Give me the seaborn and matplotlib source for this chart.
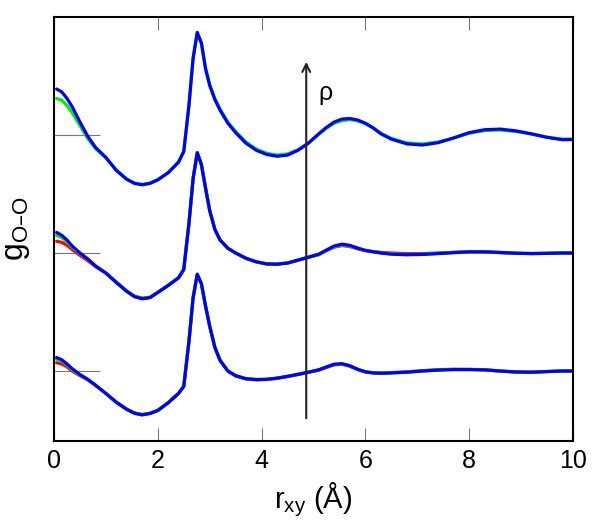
import numpy as np
import pandas as pd
import matplotlib
matplotlib.use("Agg")
import matplotlib.pyplot as plt
import seaborn as sns

# ---------------- data ----------------
r = [0.05, 0.15, 0.25, 0.35, 0.5,
     0.65, 0.8, 1.0, 1.2, 1.4,
     1.55, 1.7, 1.85, 2.0, 2.2,
     2.4, 2.5, 2.6, 2.68, 2.76,
     2.84, 2.92, 3.0, 3.1, 3.2,
     3.35, 3.5, 3.7, 3.9, 4.1,
     4.3, 4.5, 4.7, 4.9, 5.1,
     5.25, 5.4, 5.55, 5.7, 5.85,
     6.0, 6.15, 6.3, 6.5, 6.8,
     7.1, 7.4, 7.7, 8.0, 8.3,
     8.6, 8.9, 9.2, 9.5, 9.8,
     10.0]

# lowest density (offset 0)
low_red = [1.07, 1.06, 1.035, 1.0, 0.96,
           0.925, 0.878, 0.81, 0.737, 0.678,
           0.645, 0.632, 0.643, 0.668, 0.733,
           0.812, 0.87, 1.25, 1.62, 1.82,
           1.74, 1.55, 1.38, 1.2, 1.09,
           1.0, 0.958, 0.932, 0.925, 0.928,
           0.938, 0.953, 0.97, 0.988, 1.007,
           1.03, 1.052, 1.057, 1.04, 1.012,
           0.992, 0.985, 0.983, 0.987, 0.993,
           1.003, 1.011, 1.015, 1.014, 1.01,
           0.999, 0.991, 0.99, 0.996, 1.0,
           1.0]
low_green = [1.10, 1.085, 1.05, 1.01, 0.965,
             0.928, 0.879, 0.81, 0.735, 0.676,
             0.643, 0.63, 0.641, 0.666, 0.731,
             0.81, 0.87, 1.25, 1.62, 1.82,
             1.74, 1.55, 1.38, 1.2, 1.09,
             1.0, 0.96, 0.935, 0.927, 0.93,
             0.94, 0.955, 0.973, 0.99, 1.01,
             1.033, 1.055, 1.06, 1.043, 1.014,
             0.993, 0.985, 0.982, 0.985, 0.99,
             1.0, 1.009, 1.013, 1.013, 1.01,
             1.0, 0.992, 0.99, 0.996, 1.0,
             1.0]
low_blue = [1.115, 1.095, 1.06, 1.02, 0.97,
            0.93, 0.88, 0.81, 0.735, 0.675,
            0.642, 0.628, 0.64, 0.665, 0.73,
            0.81, 0.87, 1.25, 1.62, 1.82,
            1.74, 1.55, 1.38, 1.2, 1.09,
            1.0, 0.96, 0.935, 0.928, 0.93,
            0.94, 0.955, 0.972, 0.99, 1.01,
            1.035, 1.058, 1.062, 1.045, 1.015,
            0.993, 0.984, 0.981, 0.984, 0.99,
            1.0, 1.008, 1.012, 1.012, 1.01,
            1.0, 0.992, 0.99, 0.995, 1.0,
            1.0]

# intermediate density (offset 1)
mid_red = [1.10, 1.09, 1.065, 1.03, 0.98,
           0.935, 0.885, 0.83, 0.755, 0.68,
           0.635, 0.617, 0.625, 0.668, 0.727,
           0.79, 0.86, 1.25, 1.63, 1.85,
           1.75, 1.55, 1.36, 1.2, 1.11,
           1.04, 1.0, 0.955, 0.925, 0.908,
           0.906, 0.915, 0.938, 0.962, 0.985,
           1.02, 1.05, 1.063, 1.055, 1.035,
           1.02, 1.012, 1.006, 1.0, 0.995,
           0.995, 1.0, 1.006, 1.01, 1.008,
           1.003, 0.998, 0.996, 0.998, 1.0,
           1.0]
mid_green = [1.15, 1.13, 1.095, 1.05, 0.995,
             0.948, 0.89, 0.83, 0.752, 0.677,
             0.632, 0.614, 0.623, 0.666, 0.725,
             0.79, 0.86, 1.25, 1.63, 1.85,
             1.75, 1.55, 1.36, 1.2, 1.11,
             1.04, 1.0, 0.955, 0.925, 0.908,
             0.906, 0.916, 0.94, 0.964, 0.988,
             1.022, 1.055, 1.068, 1.06, 1.04,
             1.022, 1.011, 1.002, 0.993, 0.988,
             0.99, 0.997, 1.004, 1.01, 1.01,
             1.004, 0.998, 0.995, 0.997, 1.0,
             1.0]
mid_blue = [1.175, 1.15, 1.11, 1.06, 1.0,
            0.95, 0.89, 0.83, 0.75, 0.675,
            0.63, 0.612, 0.622, 0.665, 0.725,
            0.79, 0.86, 1.25, 1.63, 1.85,
            1.75, 1.55, 1.36, 1.2, 1.11,
            1.04, 1.0, 0.955, 0.925, 0.907,
            0.905, 0.915, 0.94, 0.965, 0.99,
            1.025, 1.06, 1.075, 1.065, 1.042,
            1.022, 1.01, 1.0, 0.99, 0.985,
            0.988, 0.995, 1.003, 1.01, 1.01,
            1.005, 0.998, 0.995, 0.997, 1.0,
            1.0]

# highest density (offset 2)
high_green = [1.31, 1.295, 1.25, 1.19, 1.08,
              0.97, 0.885, 0.805, 0.705, 0.628,
              0.593, 0.582, 0.593, 0.622, 0.682,
              0.772, 0.86, 1.25, 1.65, 1.86,
              1.78, 1.57, 1.43, 1.31, 1.22,
              1.11, 1.03, 0.94, 0.88, 0.845,
              0.83, 0.84, 0.875, 0.932, 1.005,
              1.058, 1.1, 1.122, 1.13, 1.12,
              1.095, 1.06, 1.015, 0.972, 0.933,
              0.925, 0.94, 0.975, 1.015, 1.038,
              1.042, 1.03, 1.008, 0.982, 0.965,
              0.966]
high_blue = [1.39, 1.365, 1.31, 1.24, 1.11,
             0.99, 0.895, 0.81, 0.70, 0.625,
             0.59, 0.578, 0.59, 0.62, 0.68,
             0.77, 0.86, 1.25, 1.65, 1.87,
             1.78, 1.56, 1.42, 1.3, 1.21,
             1.1, 1.02, 0.93, 0.87, 0.835,
             0.82, 0.83, 0.87, 0.93, 1.01,
             1.065, 1.11, 1.135, 1.14, 1.127,
             1.1, 1.06, 1.01, 0.965, 0.925,
             0.915, 0.935, 0.975, 1.02, 1.045,
             1.05, 1.035, 1.01, 0.98, 0.96,
             0.962]

offsets = [0, 1, 2]
x_ticks = [0, 2, 4, 6, 8, 10]
baselines = [1, 2, 3]

groups = [
    (0, {"red": low_red, "green": low_green, "blue": low_blue}),
    (1, {"red": mid_red, "green": mid_green, "blue": mid_blue}),
    (2, {"green": high_green, "blue": high_blue}),
]

rows = []
for off, series in groups:
    for name, vals in series.items():
        assert len(vals) == len(r), (off, name, len(vals))
        for rv, gv in zip(r, vals):
            rows.append({"r": rv, "g": gv, "y": gv + off, "series": name, "set": off})
df = pd.DataFrame(rows)

# ---------------- plot ----------------
sns.set_style("white")
plt.rcParams["font.family"] = ["Liberation Sans", "DejaVu Sans"]
plt.rcParams["mathtext.default"] = "regular"
plt.rcParams["lines.solid_joinstyle"] = "round"
plt.rcParams["lines.solid_capstyle"] = "round"
plt.rcParams["text.color"] = "black"
plt.rcParams["axes.labelcolor"] = "black"
plt.rcParams["xtick.labelcolor"] = "black"
plt.rcParams["ytick.labelcolor"] = "black"

fig = plt.figure(figsize=(6.0, 5.25), dpi=100)
ax = fig.add_axes([0.09, 0.16, 0.865, 0.8076])

palette = {"red": "#ff0000", "green": "#00ee00", "blue": "#0000ff"}
for off in offsets:
    sub = df[df["set"] == off]
    order = [s for s in ["red", "green", "blue"] if s in sub["series"].unique()]
    sns.lineplot(data=sub, x="r", y="y", hue="series", hue_order=order,
                 palette=palette, legend=False, sort=False, estimator=None,
                 linewidth=2.3, ax=ax)

ax.set_xlim(0, 10)
ax.set_ylim(0.407, 4.0)
ax.set_xticks(x_ticks)
ax.set_xticklabels([str(t) for t in x_ticks], fontsize=18, color="black")
ax.set_yticks(baselines)
ax.set_yticklabels([])
ax.tick_params(axis="x", which="major", direction="in", length=9.5, width=0.8,
               color="#777777", labelcolor="black", top=True, bottom=True, pad=6)
ax.tick_params(axis="y", which="major", direction="in", length=33, width=0.8,
               color="#777777", left=True, right=False)

for s in ax.spines.values():
    s.set_color("black")
    s.set_linewidth(1.5)

ax.set_xlabel(r"$r_{xy}$ (Å)", fontsize=21, labelpad=5, color="black")
ax.set_ylabel("$g_{O\u2013O}$", fontsize=23, labelpad=12, color="black")

# density arrow
ax.annotate("", xy=(4.86, 3.62), xytext=(4.86, 0.6),
            arrowprops=dict(arrowstyle="->", color="#222222", lw=1.5,
                            mutation_scale=14, shrinkA=0, shrinkB=0))
ax.text(5.1, 3.36, "ρ", fontsize=18, ha="left", va="center", color="black")

fig.savefig("out.png", dpi=100)
